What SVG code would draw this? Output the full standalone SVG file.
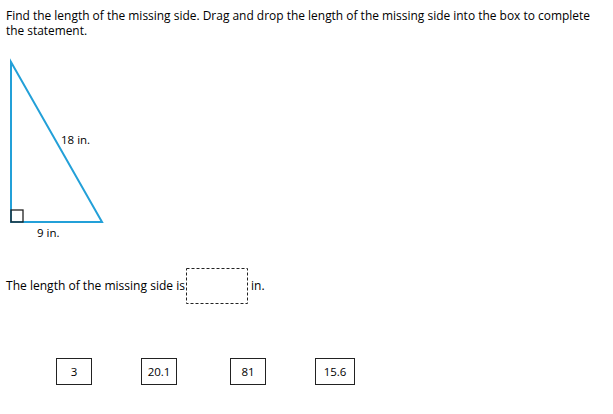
<svg xmlns="http://www.w3.org/2000/svg" width="613" height="414" viewBox="0 0 613 414">
<style>
text{font-family:"Open Sans","Noto Sans","Liberation Sans",sans-serif;fill:#000;}
.t{font-size:12px;}
.s{font-size:11.5px;}
.opt{fill:#fff;stroke:#222;stroke-width:1;}
</style>
<rect width="613" height="414" fill="#fff"/>
<g id="title">
<text class="t" x="6" y="20" textLength="584" lengthAdjust="spacingAndGlyphs">Find the length of the missing side. Drag and drop the length of the missing side into the box to complete</text>
<text class="t" x="6" y="35" textLength="81" lengthAdjust="spacingAndGlyphs">the statement.</text>
</g>
<g id="triangle">
<polygon points="11,62 11,222 102,222" fill="none" stroke="#23a0d8" stroke-width="2" stroke-linejoin="miter"/>
<rect x="11" y="210" width="12" height="12" fill="none" stroke="#222" stroke-width="1.3"/>
<text class="s" x="61" y="144">18 in.</text>
<text class="s" x="37" y="237">9 in.</text>
</g>
<g id="statement">
<text class="t" x="6" y="290" textLength="179" lengthAdjust="spacingAndGlyphs">The length of the missing side is</text>
<rect x="186.5" y="268.5" width="61" height="35" fill="none" stroke="#222" stroke-width="1" stroke-dasharray="3,2"/>
<text class="t" x="251" y="290">in.</text>
</g>
<g id="opt-3"><rect class="opt" x="56.5" y="358.5" width="35" height="26"/><text class="s" x="74" y="376" text-anchor="middle">3</text></g>
<g id="opt-20.1"><rect class="opt" x="141.5" y="358.5" width="35" height="26"/><text class="s" x="159" y="376" text-anchor="middle">20.1</text></g>
<g id="opt-81"><rect class="opt" x="230.5" y="358.5" width="35" height="26"/><text class="s" x="248" y="376" text-anchor="middle">81</text></g>
<g id="opt-15.6"><rect class="opt" x="315.5" y="358.5" width="39" height="26"/><text class="s" x="335" y="376" text-anchor="middle">15.6</text></g>
</svg>
